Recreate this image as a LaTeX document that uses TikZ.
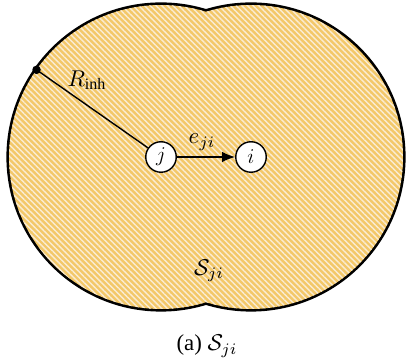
\documentclass[tikz,border=0pt]{standalone}
\usepackage{amsmath}
\usepackage{fontspec}
\setmainfont{Liberation Serif}
\usepackage{tikz}
\usetikzlibrary{arrows.meta, patterns.meta, calc}
\usepackage{xcolor}
\definecolor{laranja}{RGB}{243,200,105}
\definecolor{listra}{RGB}{250,236,212}

\begin{document}
\begin{tikzpicture}[x=0.02cm, y=0.02cm,
  agente/.style={draw, thick, circle, fill=white, minimum size=0.61cm, inner sep=0pt, font=\large},
  rotulo/.style={scale=1.3, transform shape},
  seta/.style={-{Latex[length=2.6mm,width=2.1mm]}, thick},
  listras/.style={pattern={Lines[angle=-45, distance=2.3pt, line width=0.8pt]}, pattern color=listra}]
\useasboundingbox (0,0) rectangle (406,364);  % margens da figura
% Agentes j e i
\coordinate (cj) at (161,207);
\coordinate (ci) at (251,207);
% Regiao S_ji: borda dupla, depois o preenchimento cobre a metade interna
\draw[line width=3pt] (cj) circle (3.04cm) (ci) circle (3.04cm);
\fill[laranja] (cj) circle (3.04cm) (ci) circle (3.04cm);
\fill[listras] (cj) circle (3.04cm) (ci) circle (3.04cm);
% Raio de inibicao
\coordinate (borda) at ($(cj)+(145:3.04cm)$);
\node[agente] (j) at (cj) {$j$};
\node[agente] (i) at (ci) {$i$};
\draw[thick] (borda) -- (j);
\fill (borda) circle (0.085cm);  % ponto na borda
\node[rotulo] (rinh) at (87,284) {$R_{\mathrm{inh}}$};
% Aresta entre os agentes
\draw[seta] (j) -- (i);
\node[rotulo] (eji) at (202,222) {$e_{ji}$};
\node[rotulo] (sji) at (209,93) {$\mathcal{S}_{ji}$};
% Legenda
\node[rotulo] (legenda) at (207,18) {(a) $\mathcal{S}_{ji}$};
\end{tikzpicture}
\end{document}
